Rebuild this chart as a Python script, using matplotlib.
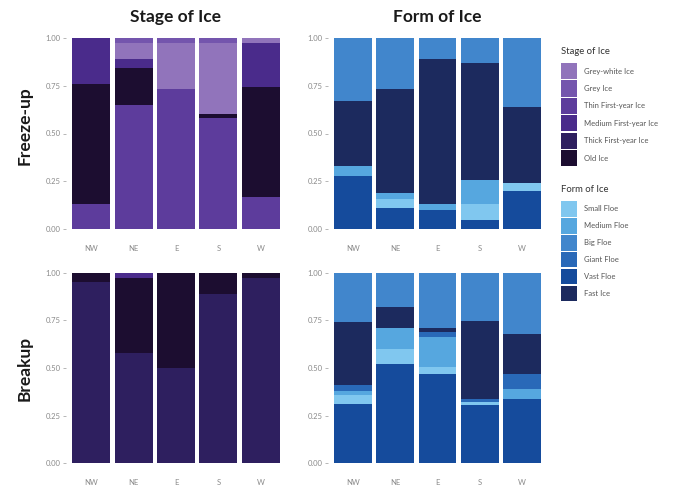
import matplotlib
matplotlib.use("Agg")
import matplotlib.pyplot as plt
from matplotlib.patches import Rectangle
import numpy as np

plt.rcParams["font.family"] = ["Lato", "DejaVu Sans"]

regions = ["NW", "NE", "E", "S", "W"]
y_ticks = [0.0, 0.25, 0.5, 0.75, 1.0]
y_tick_labels = ["0.00", "0.25", "0.50", "0.75", "1.00"]

# ---- Stage of Ice (legend order) ----
stage_levels = ["Grey-white Ice", "Grey Ice", "Thin First-year Ice",
                "Medium First-year Ice", "Thick First-year Ice", "Old Ice"]
stage_colors = ["#9174bb", "#7455ad", "#5d3c9c", "#4a2b8b", "#2e1f5f", "#1c0d30"]
# stacking, bottom to top
stage_stack = ["Thin First-year Ice", "Thick First-year Ice", "Old Ice",
               "Medium First-year Ice", "Grey-white Ice", "Grey Ice"]

freeze_grey = [0.00, 0.03, 0.03, 0.03, 0.00]
freeze_grey_white = [0.00, 0.08, 0.24, 0.37, 0.03]
freeze_medium_fy = [0.24, 0.05, 0.00, 0.00, 0.23]
freeze_old = [0.63, 0.19, 0.00, 0.02, 0.57]
freeze_thick_fy = [0.00, 0.00, 0.00, 0.00, 0.00]
freeze_thin_fy = [0.13, 0.65, 0.73, 0.58, 0.17]

breakup_grey = [0.00, 0.00, 0.00, 0.00, 0.00]
breakup_grey_white = [0.00, 0.00, 0.00, 0.00, 0.00]
breakup_medium_fy = [0.00, 0.03, 0.00, 0.00, 0.00]
breakup_old = [0.05, 0.39, 0.50, 0.11, 0.03]
breakup_thick_fy = [0.95, 0.58, 0.50, 0.89, 0.97]
breakup_thin_fy = [0.00, 0.00, 0.00, 0.00, 0.00]

# ---- Form of Ice (legend order) ----
form_levels = ["Small Floe", "Medium Floe", "Big Floe", "Giant Floe",
               "Vast Floe", "Fast Ice"]
form_colors = ["#80c7ef", "#56a7df", "#4186cc", "#2969b8", "#154b9c", "#1c2a5e"]
form_stack = ["Vast Floe", "Small Floe", "Medium Floe", "Giant Floe",
              "Fast Ice", "Big Floe"]

freeze_big = [0.33, 0.27, 0.11, 0.13, 0.36]
freeze_fast = [0.34, 0.54, 0.76, 0.61, 0.40]
freeze_giant = [0.00, 0.00, 0.00, 0.00, 0.00]
freeze_medium_floe = [0.05, 0.03, 0.03, 0.13, 0.00]
freeze_small = [0.00, 0.05, 0.00, 0.08, 0.04]
freeze_vast = [0.28, 0.11, 0.10, 0.05, 0.20]

breakup_big = [0.26, 0.18, 0.29, 0.255, 0.32]
breakup_fast = [0.33, 0.11, 0.02, 0.405, 0.21]
breakup_giant = [0.03, 0.00, 0.03, 0.02, 0.08]
breakup_medium_floe = [0.02, 0.11, 0.155, 0.00, 0.05]
breakup_small = [0.05, 0.08, 0.035, 0.015, 0.00]
breakup_vast = [0.31, 0.52, 0.47, 0.305, 0.34]

freeze_stage = {
    "Grey Ice": freeze_grey, "Grey-white Ice": freeze_grey_white,
    "Medium First-year Ice": freeze_medium_fy, "Old Ice": freeze_old,
    "Thick First-year Ice": freeze_thick_fy, "Thin First-year Ice": freeze_thin_fy,
}
breakup_stage = {
    "Grey Ice": breakup_grey, "Grey-white Ice": breakup_grey_white,
    "Medium First-year Ice": breakup_medium_fy, "Old Ice": breakup_old,
    "Thick First-year Ice": breakup_thick_fy, "Thin First-year Ice": breakup_thin_fy,
}
freeze_form = {
    "Big Floe": freeze_big, "Fast Ice": freeze_fast, "Giant Floe": freeze_giant,
    "Medium Floe": freeze_medium_floe, "Small Floe": freeze_small,
    "Vast Floe": freeze_vast,
}
breakup_form = {
    "Big Floe": breakup_big, "Fast Ice": breakup_fast, "Giant Floe": breakup_giant,
    "Medium Floe": breakup_medium_floe, "Small Floe": breakup_small,
    "Vast Floe": breakup_vast,
}

W, H = 681, 488
fig = plt.figure(figsize=(W / 100, H / 100), dpi=100)
fig.patch.set_facecolor("white")


def px_axes(left, top, right, bottom):
    return fig.add_axes([left / W, 1 - bottom / H, (right - left) / W, (bottom - top) / H])


def stacked(ax, data, stack, levels, colors):
    cmap = dict(zip(levels, colors))
    x = np.arange(len(regions))
    base = np.zeros(len(regions))
    for lev in stack:
        vals = np.asarray(data[lev], dtype=float)
        ax.bar(x, vals, bottom=base, width=0.9, color=cmap[lev], linewidth=0)
        base += vals
    ax.set_xlim(-0.6, len(regions) - 0.4)
    ax.set_ylim(-0.05, 1.05)
    ax.set_xticks(x)
    ax.set_xticklabels(regions)
    ax.set_yticks(y_ticks)
    ax.set_yticklabels(y_tick_labels)
    for s in ax.spines.values():
        s.set_visible(False)
    ax.tick_params(axis="y", length=2.2, width=0.5, color="#9a9a9a",
                   labelsize=5.5, labelcolor="#8a8a8a", pad=1.5)
    ax.tick_params(axis="x", length=0, labelsize=5.5, labelcolor="#8a8a8a", pad=4)


ax_fs = px_axes(66, 28, 286, 239)
ax_ff = px_axes(328, 28, 547, 239)
ax_bs = px_axes(66, 263, 286, 473)
ax_bf = px_axes(328, 263, 547, 473)

stacked(ax_fs, freeze_stage, stage_stack, stage_levels, stage_colors)
stacked(ax_ff, freeze_form, form_stack, form_levels, form_colors)
stacked(ax_bs, breakup_stage, stage_stack, stage_levels, stage_colors)
stacked(ax_bf, breakup_form, form_stack, form_levels, form_colors)

title_kw = dict(fontsize=12.5, fontweight="bold", color="#1a1a1a", ha="center", va="center")
fig.text(176 / W, 1 - 17 / H, "Stage of Ice", **title_kw)
fig.text(437 / W, 1 - 17 / H, "Form of Ice", **title_kw)
fig.text(25 / W, 1 - 126 / H, "Freeze-up", rotation=90, **title_kw)
fig.text(25 / W, 1 - 368 / H, "Breakup", rotation=90, **title_kw)


def legend(title, levels, colors, title_y, first_top, step):
    fig.text(561 / W, 1 - title_y / H, title, fontsize=6.8, color="#333333",
             ha="left", va="center")
    for i, (lev, col) in enumerate(zip(levels, colors)):
        top = first_top + i * step
        fig.patches.append(Rectangle((561 / W, 1 - (top + step - 1.2) / H),
                                     16 / W, (step - 1.2) / H,
                                     transform=fig.transFigure, facecolor=col,
                                     edgecolor="none"))
        fig.text(584 / W, 1 - (top + (step - 1.2) / 2) / H, lev, fontsize=5.5,
                 color="#555555", ha="left", va="center")


legend("Stage of Ice", stage_levels, stage_colors, 52, 63, 17.4)
legend("Form of Ice", form_levels, form_colors, 190, 201, 16.9)

fig.savefig("out.png", dpi=100, facecolor="white")
